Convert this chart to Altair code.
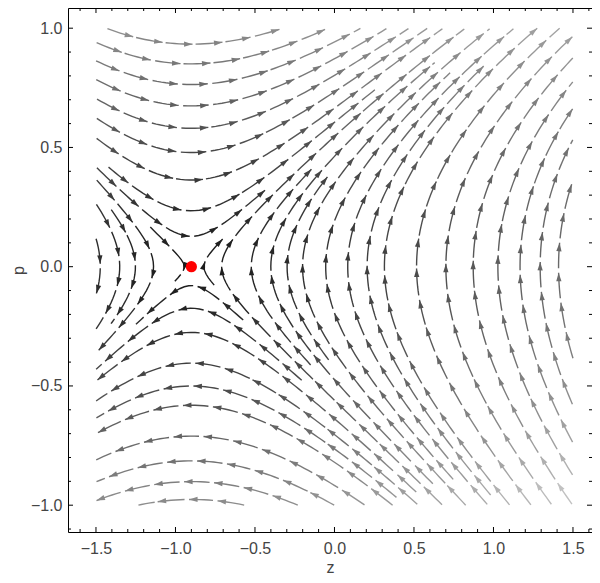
import math
import numpy as np
import pandas as pd
import altair as alt

alt.data_transformers.disable_max_rows()

# ---------------- values ----------------
saddle = [-0.9, 0.0]            # red marker / saddle point (z, p)
gain = [0.42, -0.04]            # dp/dt slope against (z - z_saddle), and its drift
skew = [0.1]                    # top / bottom asymmetry of dp/dt
z_span = [-1.5, 1.5]            # region covered by the streamlines
p_span = [-1.0, 1.0]
x_domain = [-1.676, 1.6196]
y_domain = [-1.1124, 1.0847]
x_major = [-1.5, -1.0, -0.5, 0.0, 0.5, 1.0, 1.5]
y_major = [-1.0, -0.5, 0.0, 0.5, 1.0]
x_minor = [-1.6, -1.4, -1.3, -1.2, -1.1, -0.9, -0.8, -0.7, -0.6, -0.4, -0.3, -0.2,
           -0.1, 0.1, 0.2, 0.3, 0.4, 0.6, 0.7, 0.8, 0.9, 1.1, 1.2, 1.3, 1.4, 1.6]
y_minor = [-1.1, -0.9, -0.8, -0.7, -0.6, -0.4, -0.3, -0.2, -0.1,
           0.1, 0.2, 0.3, 0.4, 0.6, 0.7, 0.8, 0.9]
gray_ramp = [0.10, 0.70, 1.40, 1.3, 0.85]  # gray = a + b*(speed/smax)^g, capped

# ---------------- layout ----------------
W, H = 524, 524
SX = W / (x_domain[1] - x_domain[0])
SY = H / (y_domain[1] - y_domain[0])


def field(z, p):
    zeta = z - saddle[0]
    q = p - saddle[1]
    k = gain[0] + gain[1] * zeta
    return q, k * zeta * (1.0 - skew[0] * zeta * q)


XW = (z_span[1] - z_span[0]) * SX
YH = (p_span[1] - p_span[0]) * SY


def to_data(X, Y):
    return z_span[0] + X / SX, p_span[0] + Y / SY


def vel(X, Y):
    z, p = to_data(X, Y)
    dz, dp = field(z, p)
    vx, vy = dz * SX, dp * SY
    return vx, vy, math.hypot(vx, vy), math.hypot(dz, dp)


D_SEP = 17.0
D_TEST = 0.5 * D_SEP
STEP = 1.5
MIN_LEN = 10.0
CELL = D_SEP
grid = {}


def near(X, Y, d):
    ci, cj = int(X // CELL), int(Y // CELL)
    r = int(math.ceil(d / CELL))
    d2 = d * d
    for i in range(ci - r, ci + r + 1):
        for j in range(cj - r, cj + r + 1):
            for (a, b) in grid.get((i, j), ()):
                if (a - X) ** 2 + (b - Y) ** 2 < d2:
                    return True
    return False


def add_pts(pts):
    for (a, b) in pts:
        grid.setdefault((int(a // CELL), int(b // CELL)), []).append((a, b))


def trace(X, Y, sign):
    pts = []
    prev = None
    for _ in range(3000):
        vx, vy, n, s = vel(X, Y)
        if s < 1e-3 or n == 0:
            break
        dx, dy = sign * vx / n, sign * vy / n
        if prev is not None and dx * prev[0] + dy * prev[1] < 0.5:
            break
        mx, my = X + 0.5 * STEP * dx, Y + 0.5 * STEP * dy
        vx2, vy2, n2, s2 = vel(mx, my)
        if n2 == 0:
            break
        dx2, dy2 = sign * vx2 / n2, sign * vy2 / n2
        nX, nY = X + STEP * dx2, Y + STEP * dy2
        if not (0 <= nX <= XW and 0 <= nY <= YH):
            break
        if near(nX, nY, D_TEST):
            break
        pts.append((nX, nY))
        prev = (dx2, dy2)
        X, Y = nX, nY
    return pts


def make_line(X, Y):
    if not (0 <= X <= XW and 0 <= Y <= YH):
        return None
    if near(X, Y, D_SEP * 0.9):
        return None
    back = trace(X, Y, -1)
    fwd = trace(X, Y, 1)
    pts = back[::-1] + [(X, Y)] + fwd
    if (len(pts) - 1) * STEP < MIN_LEN:
        return None
    return pts


lines = []
first = make_line((0.2 - z_span[0]) * SX, (0.3 - p_span[0]) * SY)
lines.append(first)
add_pts(first)
idx = 0
while idx < len(lines):
    L = lines[idx]
    idx += 1
    for k in range(0, len(L), 3):
        X, Y = L[k]
        vx, vy, n, s = vel(X, Y)
        if n == 0:
            continue
        nx, ny = -vy / n, vx / n
        for sg in (1, -1):
            new = make_line(X + sg * D_SEP * nx, Y + sg * D_SEP * ny)
            if new:
                lines.append(new)
                add_pts(new)
    if idx == len(lines):
        g = D_SEP / 2
        for gx in np.arange(g / 2, XW, g):
            for gy in np.arange(g / 2, YH, g):
                new = make_line(gx, gy)
                if new:
                    lines.append(new)
                    add_pts(new)


def gray(s):
    a, b, smax, gam, cap = gray_ramp
    v = min(a + b * (min(s, smax) / smax) ** gam, cap)
    c = int(round(v * 255))
    return "#%02x%02x%02x" % (c, c, c)


PERIOD, GAP, ARROW = 30.0, 3.0, 8.5
rows, arrows = [], []
dash_id = 0
for pts in lines:
    arr = np.array(pts)
    seg = np.hypot(np.diff(arr[:, 0]), np.diff(arr[:, 1]))
    s = np.concatenate([[0.0], np.cumsum(seg)])
    total = s[-1]
    m = 0
    while m * PERIOD < total:
        a = m * PERIOD
        b = min(a + PERIOD - GAP, total)
        ids = np.where((s >= a) & (s <= b))[0]
        m += 1
        if len(ids) < 2:
            continue
        sub = arr[ids]
        mid = sub[len(sub) // 2]
        col = gray(vel(mid[0], mid[1])[3])
        keep = list(range(0, len(sub), 3))
        if keep[-1] != len(sub) - 1:
            keep.append(len(sub) - 1)
        for i, kk in enumerate(keep):
            z, p = to_data(sub[kk][0], sub[kk][1])
            rows.append({"z": z, "p": p, "dash": dash_id, "i": i, "col": col})
        if (b - a) >= 0.75 * (PERIOD - GAP) and len(sub) >= 3:
            tip = sub[-1]
            d = sub[-1] - sub[-3]
            d = d / np.hypot(d[0], d[1])
            cen = tip - d * ARROW / 2
            z, p = to_data(cen[0], cen[1])
            ang = math.degrees(math.atan2(d[0], d[1])) % 360
            arrows.append({"z": z, "p": p, "ang": ang, "col": col})
        dash_id += 1

df_lines = pd.DataFrame(rows)
df_arrows = pd.DataFrame(arrows)
df_dot = pd.DataFrame({"z": [saddle[0]], "p": [saddle[1]]})

xs = alt.Scale(domain=x_domain, nice=False, zero=False)
ys = alt.Scale(domain=y_domain, nice=False, zero=False)
label_expr = "replace(format(datum.value, '.1f'), '-', '\u2212\u2009')"

stream = alt.Chart(df_lines).mark_line(strokeWidth=1.4, strokeCap="butt").encode(
    x=alt.X("z:Q", scale=xs, axis=alt.Axis(
        values=x_major, labelExpr=label_expr, ticks=False, tickSize=0, domain=False,
        grid=False, labelPadding=8, title="z", titlePadding=3)),
    y=alt.Y("p:Q", scale=ys, axis=alt.Axis(
        values=y_major, labelExpr=label_expr, ticks=False, tickSize=0, domain=False,
        grid=False, labelPadding=6, title="p", titlePadding=4)),
    detail="dash:N",
    color=alt.Color("col:N", scale=None),
    order="i:Q",
)

heads = alt.Chart(df_arrows).mark_point(
    shape="M0,-1L0.62,1L-0.62,1Z", filled=True, size=72, opacity=1, strokeWidth=0
).encode(
    x=alt.X("z:Q", scale=xs),
    y=alt.Y("p:Q", scale=ys),
    angle=alt.Angle("ang:Q", scale=None),
    color=alt.Color("col:N", scale=None),
)

dot = alt.Chart(df_dot).mark_circle(size=125, color="#ff0000", opacity=1).encode(
    x=alt.X("z:Q", scale=xs), y=alt.Y("p:Q", scale=ys))

tick_layers = []
for vals, ln in ((x_major, 5), (x_minor, 3)):
    d = pd.DataFrame({"z": vals})
    tick_layers.append(alt.Chart(d).mark_rule(color="black", strokeWidth=1).encode(
        x=alt.X("z:Q", scale=xs), y=alt.value(H), y2=alt.value(H - ln)))
    tick_layers.append(alt.Chart(d).mark_rule(color="black", strokeWidth=1).encode(
        x=alt.X("z:Q", scale=xs), y=alt.value(0), y2=alt.value(ln)))
for vals, ln in ((y_major, 5), (y_minor, 3)):
    d = pd.DataFrame({"p": vals})
    tick_layers.append(alt.Chart(d).mark_rule(color="black", strokeWidth=1).encode(
        y=alt.Y("p:Q", scale=ys), x=alt.value(0), x2=alt.value(ln)))
    tick_layers.append(alt.Chart(d).mark_rule(color="black", strokeWidth=1).encode(
        y=alt.Y("p:Q", scale=ys), x=alt.value(W), x2=alt.value(W - ln)))

chart = alt.layer(stream, heads, dot, *tick_layers).properties(
    width=W, height=H,
    autosize=alt.AutoSizeParams(type="none"),
    padding={"left": 60, "top": 0, "right": 0, "bottom": 43},
).configure_view(stroke="black", strokeWidth=1).configure_axis(
    labelFont="Liberation Sans", labelFontSize=16, labelColor="#444444",
    titleFont="Liberation Sans", titleFontSize=16, titleColor="#444444",
    titleFontWeight="normal",
)

chart.save("out.html", embed_options={"renderer": "svg", "actions": False})
